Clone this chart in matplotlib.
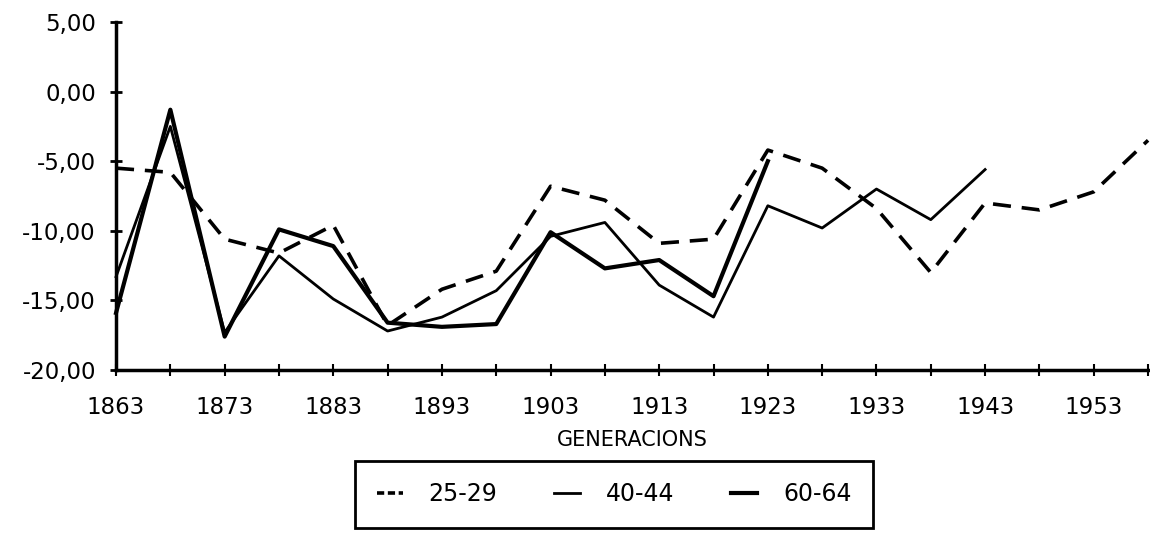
import matplotlib
matplotlib.use("Agg")
import matplotlib.pyplot as plt
from matplotlib.lines import Line2D

plt.rcParams['font.family'] = ['DejaVu Sans']

years = [1863, 1868, 1873, 1878, 1883, 1888, 1893, 1898, 1903, 1908,
         1913, 1918, 1923, 1928, 1933, 1938, 1943, 1948, 1953, 1958]
s25_29 = [-5.5, -5.8, -10.6, -11.6, -9.6, -16.8, -14.2, -12.9, -6.8, -7.8,
          -10.9, -10.6, -4.2, -5.5, -8.4, -13.0, -8.0, -8.5, -7.2, -3.5]
s40_44 = [-13.3, -2.5, -17.3, -11.8, -14.9, -17.2, -16.2, -14.3, -10.4, -9.4,
          -13.9, -16.2, -8.2, -9.8, -7.0, -9.2, -5.6]
s60_64 = [-15.9, -1.3, -17.6, -9.9, -11.1, -16.6, -16.9, -16.7, -10.1, -12.7,
          -12.1, -14.7, -5.0]
labels = ["25-29", "40-44", "60-64"]
y_ticks = [5, 0, -5, -10, -15, -20]
x_label_years = [1863, 1873, 1883, 1893, 1903, 1913, 1923, 1933, 1943, 1953]

fig = plt.figure(figsize=(11.5, 5.35), dpi=100)
ax = fig.add_axes([0.1009, 0.3084, 0.8974, 0.6505])

ax.plot(years[:len(s25_29)], s25_29, color='black', lw=2.6, linestyle=(0, (5, 3)),
        label=labels[0], clip_on=False)
ax.plot(years[:len(s40_44)], s40_44, color='black', lw=2.0, label=labels[1], clip_on=False)
ax.plot(years[:len(s60_64)], s60_64, color='black', lw=3.0, label=labels[2], clip_on=False)

ax.set_xlim(1863, 1958)
ax.set_ylim(-20, 5)

for side in ['top', 'right']:
    ax.spines[side].set_visible(False)
for side in ['left', 'bottom']:
    ax.spines[side].set_linewidth(2.5)
    ax.spines[side].set_color('black')

ax.set_yticks(y_ticks)
ax.set_yticklabels([f"{v:.2f}".replace('.', ',') for v in y_ticks])
ax.set_xticks(years)
ax.set_xticklabels([str(y) if y in x_label_years else "" for y in years])

ax.tick_params(axis='y', direction='inout', length=9, width=2, pad=10, labelsize=16.5)
ax.tick_params(axis='x', direction='inout', length=9, width=1.5, pad=14, labelsize=16.5)

ax.set_xlabel("GENERACIONS", fontsize=15, labelpad=8)

handles = [Line2D([], [], color='black', lw=2.6, linestyle=(0, (2.0, 1.0))),
           Line2D([], [], color='black', lw=2.0),
           Line2D([], [], color='black', lw=3.0)]
leg = fig.legend(handles, labels, loc='upper center', bbox_to_anchor=(0.534, 0.138),
                 ncol=3, frameon=True, fancybox=False, edgecolor='black', framealpha=1,
                 fontsize=17, handlelength=1.1, handletextpad=1.1, columnspacing=2.4,
                 borderpad=0.9, borderaxespad=0)
leg.get_frame().set_linewidth(2)

fig.savefig("out.png", dpi=100)
